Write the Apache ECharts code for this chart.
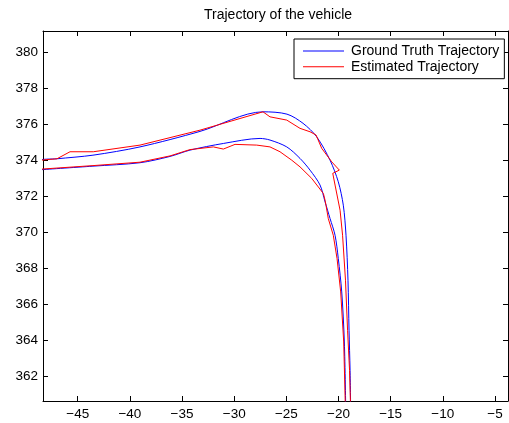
<!DOCTYPE html>
<html>
<head>
<meta charset="utf-8">
<script src="https://cdn.jsdelivr.net/npm/echarts@6/dist/echarts.min.js"></script>
<style>html,body{margin:0;padding:0;background:#fff;}#c{width:509px;height:423px;}</style>
</head>
<body>
<div id="c"></div>
<script>
// Ground truth, outer branch (left to bottom)
var gtOuterX = [-48.6, -46.99, -43.54, -39.03, -33.28, -27.24, -24.94, -23.40, -22.09, -20.81, -20.02, -19.54, -19.28, -19.09, -18.99, -18.89, -18.83];
var gtOuterY = [373.99, 374.08, 374.28, 374.74, 375.60, 376.69, 376.56, 376.05, 375.30, 374.00, 372.80, 371.50, 369.83, 367.33, 364.55, 362.32, 360.0];
// Ground truth, inner branch (left to bottom)
var gtInnerX = [-48.6, -43.54, -39.03, -36.15, -34.24, -31.04, -27.52, -26.57, -24.96, -23.69, -22.73, -21.77, -21.29, -20.81, -20.33, -20.02, -19.69, -19.44, -19.30];
var gtInnerY = [373.47, 373.67, 373.86, 374.21, 374.56, 374.93, 375.21, 375.12, 374.74, 374.10, 373.45, 372.62, 371.69, 370.76, 369.83, 368.54, 366.68, 363.90, 360.0];
// Estimated, outer branch
var estOuterX = [-48.6, -46.99, -45.74, -43.51, -39.03, -33.28, -27.24, -26.57, -24.96, -23.69, -22.73, -22.15, -21.61, -20.65, -19.92, -20.55, -20.33, -19.85, -19.61, -19.33, -19.13, -18.94, -18.83];
var estOuterY = [374.0, 374.08, 374.47, 374.47, 374.84, 375.67, 376.69, 376.41, 376.23, 375.77, 375.58, 375.40, 374.66, 373.91, 373.45, 373.27, 372.62, 371.22, 369.83, 367.33, 364.55, 362.32, 360.0];
// Estimated, inner branch
var estInnerX = [-48.6, -43.54, -39.03, -36.15, -34.24, -32.00, -31.04, -29.92, -27.84, -26.57, -25.61, -24.48, -23.69, -22.57, -21.45, -21.29, -21.20, -20.98, -20.50, -20.14, -19.79, -19.50, -19.33];
var estInnerY = [373.50, 373.70, 373.89, 374.24, 374.59, 374.74, 374.62, 374.88, 374.84, 374.74, 374.47, 374.00, 373.63, 372.99, 372.15, 371.78, 371.50, 370.76, 369.83, 368.54, 366.68, 363.90, 360.0];

var seriesNames = ['Ground Truth Trajectory', 'Estimated Trajectory'];
var xRange = [-48.33, -3.75];
var yRange = [360.62, 381.18];

function path(ox, oy, ix, iy) {
  var pts = [];
  for (var i = ox.length - 1; i >= 0; i--) pts.push([ox[i], oy[i]]);
  for (var j = 0; j < ix.length; j++) pts.push([ix[j], iy[j]]);
  return pts;
}

var fmt = function (v) { return String(Math.round(v)).replace('-', '\u2212'); };
var font = 'Liberation Sans, Arial, Helvetica, sans-serif';
function ax(pos, range, split, showLabel, margin) {
  return {
    type: 'value', position: pos, min: range[0], max: range[1], splitNumber: split,
    axisLine: { show: true, onZero: false, lineStyle: { color: '#000', width: 1 } },
    axisTick: { show: true, inside: true, length: 5, lineStyle: { color: '#000', width: 1 } },
    splitLine: { show: false },
    axisLabel: { show: showLabel, margin: margin, color: '#000', fontSize: 13.5, fontFamily: font,
      showMinLabel: false, showMaxLabel: false, formatter: fmt }
  };
}

var chart = echarts.init(document.getElementById('c'), null, { renderer: 'canvas' });

chart.setOption({
  animation: false,
  backgroundColor: '#fff',
  title: {
    text: 'Trajectory of the vehicle',
    left: 204, top: 8, padding: 0,
    textStyle: { color: '#000', fontSize: 14, fontWeight: 'normal', fontFamily: font }
  },
  legend: {
    data: seriesNames,
    orient: 'vertical',
    left: 294, top: 39,
    padding: [5, 5, 5, 9],
    icon: 'rect',
    itemWidth: 41, itemHeight: 1, itemGap: 1.7,
    backgroundColor: '#fff',
    borderColor: '#000', borderWidth: 1, borderRadius: 0,
    textStyle: { color: '#000', fontSize: 14, fontFamily: font, padding: [0, 0, 0, 2] }
  },
  grid: { left: 43, right: 1, top: 31, bottom: 22, containLabel: false },
  xAxis: [ax('bottom', xRange, 9, true, 6), ax('top', xRange, 9, false, 6)],
  yAxis: [ax('left', yRange, 10, true, 5), ax('right', yRange, 10, false, 5)],
  series: [
    { name: seriesNames[0], type: 'line', data: path(gtOuterX, gtOuterY, gtInnerX, gtInnerY), symbol: 'none', clip: true, smooth: 0.3,
      lineStyle: { color: '#0000ff', width: 1 }, itemStyle: { color: '#0000ff' } },
    { name: seriesNames[1], type: 'line', data: path(estOuterX, estOuterY, estInnerX, estInnerY), symbol: 'none', clip: true,
      lineStyle: { color: '#ff0000', width: 1 }, itemStyle: { color: '#ff0000' } }
  ]
});
</script>
</body>
</html>
